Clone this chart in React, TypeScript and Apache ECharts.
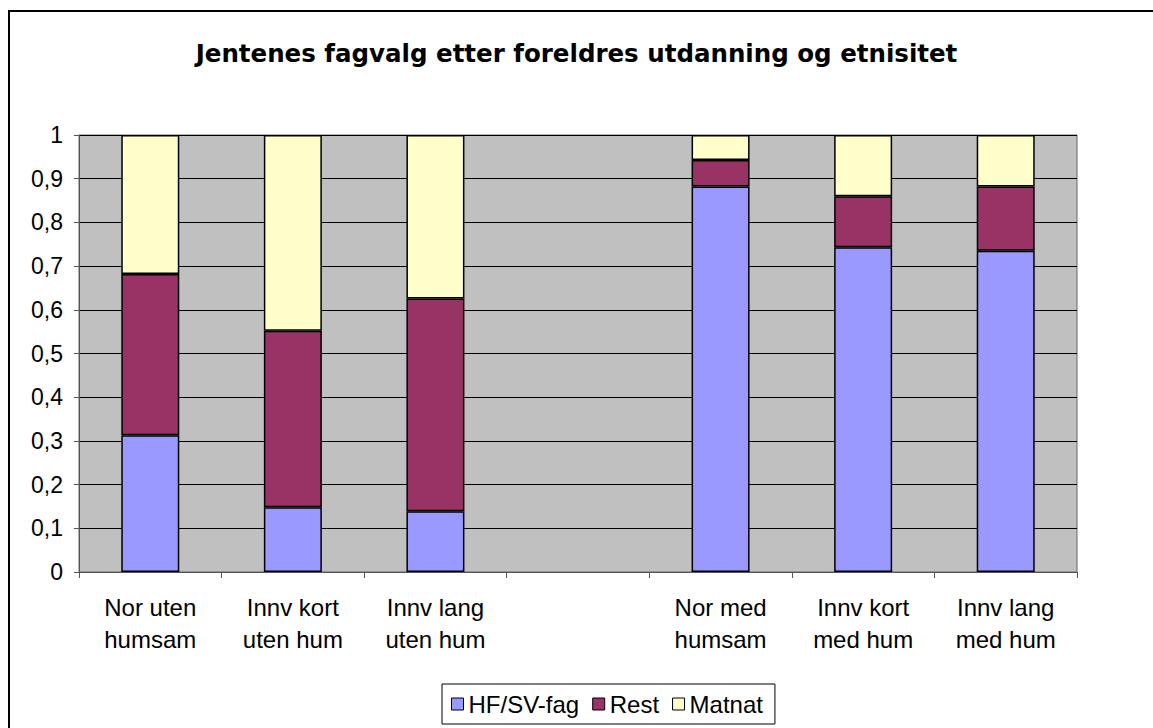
import React, { useEffect, useRef } from "react";
import * as echarts from "echarts";

const titleText = "Jentenes fagvalg etter foreldres utdanning og etnisitet";
const categories = [
  "Nor uten\nhumsam",
  "Innv kort\nuten hum",
  "Innv lang\nuten hum",
  "",
  "Nor med\nhumsam",
  "Innv kort\nmed hum",
  "Innv lang\nmed hum",
];
const hfsv = [0.313, 0.148, 0.139, null, 0.882, 0.743, 0.735];
const rest = [0.369, 0.404, 0.487, null, 0.061, 0.117, 0.147];
const matnat = [0.318, 0.448, 0.374, null, 0.057, 0.14, 0.118];
const seriesNames = ["HF/SV-fag", "Rest", "Matnat"];
const colors = ["#9999FF", "#993366", "#FFFFCC"];

export default function App() {
  const ref = useRef<HTMLDivElement>(null);
  useEffect(() => {
    if (!ref.current) return;
    const chart = echarts.init(ref.current, undefined, { renderer: "svg" });
    const font = "'Liberation Sans', Arial, sans-serif";
    const data = [hfsv, rest, matnat];
    chart.setOption({
      animation: false,
      backgroundColor: "#ffffff",
      textStyle: { fontFamily: font },
      title: {
        text: titleText,
        left: "center",
        top: 41,
        padding: 0,
        textStyle: { fontSize: 24.5, fontWeight: "bold", color: "#000", fontFamily: "'DejaVu Sans', sans-serif" },
      },
      graphic: [
        {
          type: "rect",
          shape: { x: 9, y: 11, width: 1200, height: 800 },
          style: { fill: "none", stroke: "#000", lineWidth: 2 },
          silent: true,
          z: 100,
        },
      ],
      legend: {
        left: 442,
        top: 684,
        padding: [8, 12, 8, 9],
        borderColor: "#000",
        borderWidth: 1,
        itemWidth: 12,
        itemHeight: 12,
        itemGap: 13,
        icon: "rect",
        textStyle: { fontSize: 24, color: "#000", fontFamily: font },
        data: seriesNames.map((n, i) => ({
          name: n,
          itemStyle: { color: colors[i], borderColor: "#000", borderWidth: 1 },
        })),
      },
      grid: {
        left: 79,
        right: 76,
        top: 135,
        bottom: 156,
        show: true,
        backgroundColor: "#C0C0C0",
        borderColor: "#666",
        borderWidth: 1,
      },
      xAxis: {
        type: "category",
        data: categories,
        axisLine: { lineStyle: { color: "#555", width: 1 } },
        axisTick: { show: true, alignWithLabel: false, length: 6, lineStyle: { color: "#555" } },
        axisLabel: { fontSize: 24, color: "#000", lineHeight: 32, margin: 19, interval: 0, fontFamily: font },
      },
      yAxis: {
        type: "value",
        min: 0,
        max: 1,
        interval: 0.1,
        axisLine: { show: true, lineStyle: { color: "#555", width: 1 } },
        axisTick: { show: true, length: 5, lineStyle: { color: "#555" } },
        splitLine: { show: true, lineStyle: { color: "#000", width: 1 } },
        axisLabel: {
          fontSize: 23,
          color: "#000",
          margin: 16,
          fontFamily: font,
          formatter: (v: number) => String(Math.round(v * 10) / 10).replace(".", ","),
        },
      },
      series: seriesNames.map((n, i) => ({
        name: n,
        type: "bar",
        stack: "total",
        barWidth: 58,
        data: data[i],
        itemStyle: { color: colors[i], borderColor: "#000", borderWidth: 1.5 },
      })),
    });
    return () => chart.dispose();
  }, []);
  return (
    <div
      ref={ref}
      style={{ position: "absolute", left: 0, top: 0, width: 1153, height: 728 }}
    />
  );
}
